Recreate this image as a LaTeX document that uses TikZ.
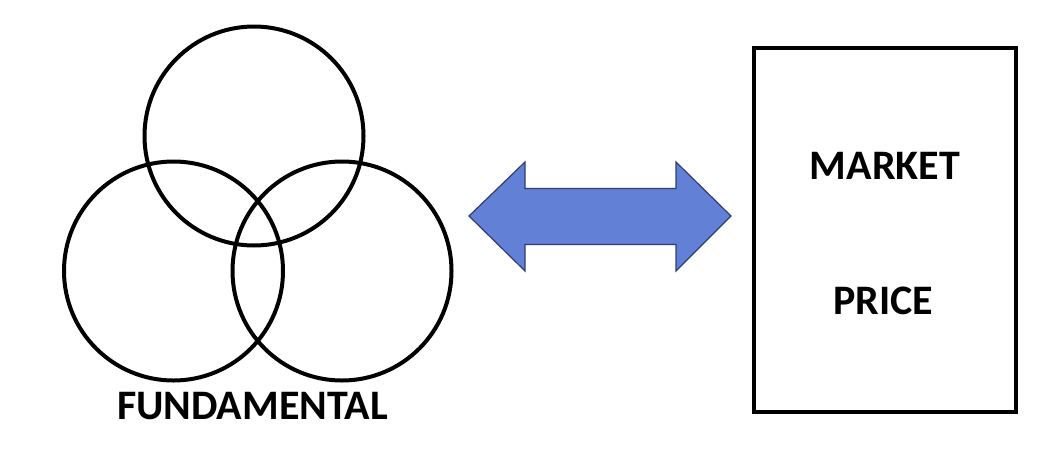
\documentclass[tikz,border=0pt]{standalone}
\usepackage{fontspec}
\setmainfont{Carlito}
\tikzset{
  ring/.style={circle, draw=black, line width=4pt, minimum size=219pt, inner sep=0pt},
  label/.style={font=\fontsize{42}{50}\selectfont\bfseries, inner sep=0pt, text=black},
  pricebox/.style={draw=black, line width=4pt, minimum width=262pt, minimum height=364pt, inner sep=0pt},
  dblarrow/.style={fill={rgb,255:red,99;green,128;blue,215}, draw={rgb,255:red,47;green,62;blue,110}, line width=1.2pt, line join=miter}
}
\begin{document}
\begin{tikzpicture}[x=1pt,y=-1pt]
\useasboundingbox (0,0) rectangle (1064,458);
\node[ring] (top) at (254,136) {};
\node[ring] (left) at (173.5,271) {};
\node[ring] (right) at (342,271) {};
\node[label] (fund) at (252.5,406) {FUNDAMENTAL};
\node[pricebox] (box) at (885,229.5) {};
\node[label] (market) at (885,166) {MARKET};
\node[label] (price) at (883,301) {PRICE};
\coordinate (ltip) at (469,216);
\coordinate (rtip) at (731,216);
\draw[dblarrow] (ltip) -- (525,162) -- (525,188.5) -- (676,188.5) -- (676,162) -- (rtip) -- (676,271) -- (676,244.5) -- (525,244.5) -- (525,271) -- cycle;
\end{tikzpicture}
\end{document}
